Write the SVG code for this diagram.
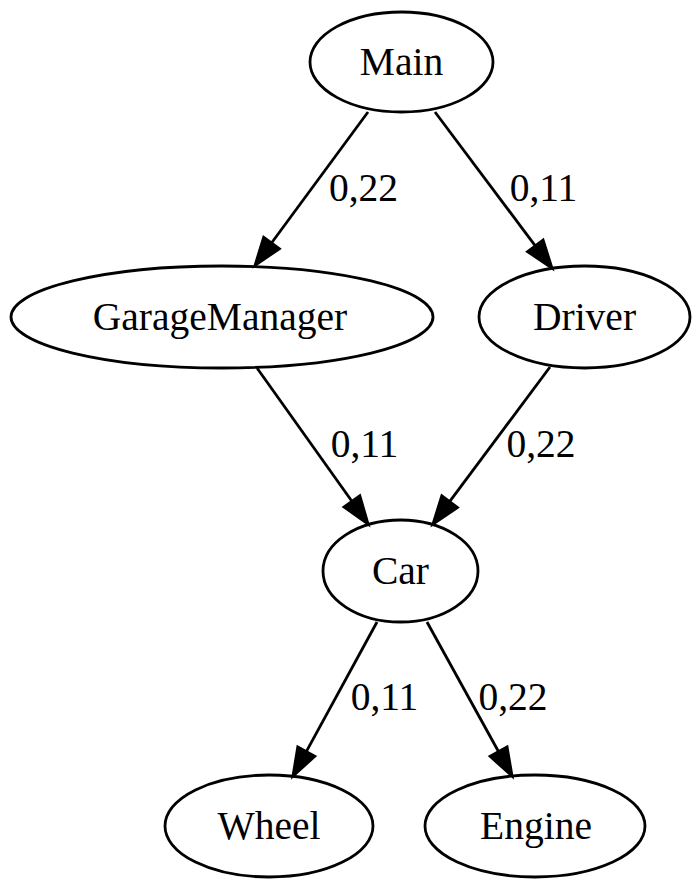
<svg xmlns="http://www.w3.org/2000/svg" width="700" height="889" viewBox="0 0 700 889">
<style>
.n ellipse{fill:none;stroke:#000;stroke-width:2.8}
text{font-family:"Liberation Serif","Times New Roman",serif;font-size:39.5px;fill:#000;text-anchor:middle}
.e line{stroke:#000;stroke-width:2.8;marker-end:url(#ah)}
</style>
<defs>
<marker id="ah" markerUnits="userSpaceOnUse" markerWidth="32" markerHeight="24" refX="0" refY="0" orient="auto" viewBox="-2 -12 32 24" overflow="visible">
<path d="M0,-9.7 L27.8,0 L0,9.7 Z" fill="#000" stroke="#000" stroke-width="2.8"/>
</marker>
</defs>
<rect width="700" height="889" fill="#fff"/>
<g id="edges" class="e">
<line x1="368" y1="112" x2="271.5" y2="243"/>
<line x1="435" y1="112" x2="535.3" y2="245.8"/>
<line x1="257" y1="368" x2="351.9" y2="501.3"/>
<line x1="550" y1="367" x2="449.6" y2="501.7"/>
<line x1="377" y1="622" x2="306.3" y2="751.6"/>
<line x1="427" y1="622" x2="498.6" y2="751.7"/>
<text x="363.5" y="201">0,22</text>
<text x="543.5" y="201">0,11</text>
<text x="364.5" y="457">0,11</text>
<text x="541" y="457">0,22</text>
<text x="384.5" y="710">0,11</text>
<text x="513" y="710">0,22</text>
</g>
<g id="Main" class="n"><ellipse cx="401.5" cy="62" rx="91.5" ry="50"/><text x="401.5" y="75">Main</text></g>
<g id="GarageManager" class="n"><ellipse cx="222" cy="317" rx="211" ry="51"/><text x="220" y="330">GarageManager</text></g>
<g id="Driver" class="n"><ellipse cx="584.5" cy="317" rx="105.5" ry="51"/><text x="584.5" y="330">Driver</text></g>
<g id="Car" class="n"><ellipse cx="400.5" cy="571" rx="77.5" ry="51"/><text x="400.5" y="584">Car</text></g>
<g id="Wheel" class="n"><ellipse cx="269" cy="826" rx="104" ry="51"/><text x="269" y="839">Wheel</text></g>
<g id="Engine" class="n"><ellipse cx="535" cy="826" rx="110" ry="51"/><text x="536" y="839">Engine</text></g>
</svg>
